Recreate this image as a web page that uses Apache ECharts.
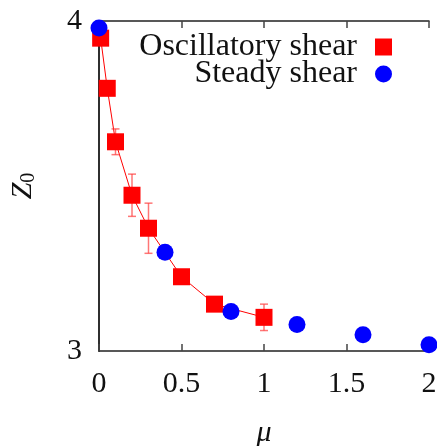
<!DOCTYPE html>
<html><head><meta charset="utf-8">
<script src="https://cdn.jsdelivr.net/npm/echarts@6/dist/echarts.min.js"></script>
<style>html,body{margin:0;padding:0;background:#fff}#c{width:437px;height:446px}</style>
</head><body><div id="c"></div>
<script>
// Oscillatory shear (red squares, with error bars)
var oscMu = [0.01, 0.05, 0.1, 0.2, 0.3, 0.5, 0.7, 1.0];
var oscZ  = [3.948, 3.796, 3.634, 3.472, 3.372, 3.225, 3.142, 3.102];
var oscErr = [0.0, 0.0, 0.039, 0.064, 0.076, 0.0, 0.0, 0.04];
// Steady shear (blue circles)
var stMu = [0, 0.4, 0.8, 1.2, 1.6, 2.0];
var stZ  = [3.979, 3.299, 3.120, 3.080, 3.049, 3.019];
var xTicks = [0, 0.5, 1, 1.5, 2];
var yTicks = [3, 4];

var FONT = '"Liberation Serif", "DejaVu Serif", serif';
var oscData = oscMu.map(function(m,i){return [m, oscZ[i]];});
var errData = oscMu.map(function(m,i){return [m, oscZ[i]-oscErr[i], oscZ[i]+oscErr[i]];}).filter(function(d,i){return oscErr[i]>0;});
var stData = stMu.map(function(m,i){return [m, stZ[i]];});

var chart = echarts.init(document.getElementById('c'), null, {renderer:'canvas'});
var axLine = {show:true, lineStyle:{color:'#222', width:1.5}};
chart.setOption({
  animation:false,
  grid:{left:99, right:8, top:21, bottom:95, containLabel:false, outerBoundsMode:'none'},
  legend:{
    orient:'vertical', right:40, top:26, align:'right',
    itemWidth:17, itemHeight:17, itemGap:-5,
    textStyle:{fontFamily:FONT, fontSize:32, color:'#111', lineHeight:28, padding:[0,13,0,0]},
    data:[{name:'Oscillatory shear', icon:'rect'},{name:'Steady shear', icon:'circle'}]
  },
  xAxis:[{
    type:'value', min:0, max:2, interval:0.5,
    axisLine:axLine, splitLine:{show:false},
    axisTick:{show:true, inside:true, length:7, lineStyle:{color:'#444', width:1.5}},
    axisLabel:{fontFamily:FONT, fontSize:30, color:'#111', margin:18,
      formatter:function(v){return xTicks.indexOf(v)>=0 ? String(v) : '';}},
    name:'μ', nameLocation:'middle', nameGap:67,
    nameTextStyle:{fontFamily:FONT, fontSize:30, fontStyle:'italic', color:'#111'}
  },{
    type:'value', min:0, max:2, interval:0.5, position:'top',
    axisLine:axLine, splitLine:{show:false},
    axisTick:{show:true, inside:true, length:7, lineStyle:{color:'#444', width:1.5}},
    axisLabel:{show:false}
  }],
  yAxis:[{
    type:'value', min:3, max:4, interval:1,
    axisLine:axLine, splitLine:{show:false},
    axisTick:{show:false},
    axisLabel:{fontFamily:FONT, fontSize:30, color:'#111', margin:17,
      formatter:function(v){return yTicks.indexOf(v)>=0 ? String(v) : '';}},
    name:'{z|Z}{s|0}', nameLocation:'middle', nameGap:60,
    nameTextStyle:{fontFamily:FONT, color:'#111',
      rich:{z:{fontFamily:FONT, fontSize:30, fontStyle:'italic', color:'#111'},
            s:{fontFamily:FONT, fontSize:20, color:'#111', padding:[12,0,0,0]}}}
  },{
    type:'value', min:3, max:4, interval:1, position:'right',
    axisLine:axLine, splitLine:{show:false}, axisTick:{show:false}, axisLabel:{show:false}
  }],
  series:[
    {type:'line', data:oscData, showSymbol:false, symbol:'none', silent:true,
     lineStyle:{color:'#ff0000', width:1}, z:2, clip:false},
    {type:'custom', z:3, clip:false, data:errData,
     renderItem:function(params, api){
       var x = api.value(0);
       var lo = api.coord([x, api.value(1)]);
       var hi = api.coord([x, api.value(2)]);
       var w = 4;
       var st = {stroke:'rgba(255,60,60,0.7)', lineWidth:1.5};
       return {type:'group', children:[
         {type:'line', shape:{x1:lo[0],y1:lo[1],x2:hi[0],y2:hi[1]}, style:st},
         {type:'line', shape:{x1:lo[0]-w,y1:lo[1],x2:lo[0]+w,y2:lo[1]}, style:st},
         {type:'line', shape:{x1:hi[0]-w,y1:hi[1],x2:hi[0]+w,y2:hi[1]}, style:st}
       ]};
     }},
    {type:'scatter', name:'Oscillatory shear', data:oscData, symbol:'rect', symbolSize:17,
     itemStyle:{color:'#ff0000', opacity:1}, z:4, clip:false},
    {type:'scatter', name:'Steady shear', data:stData, symbol:'circle', symbolSize:17,
     itemStyle:{color:'#0000ff', opacity:1}, z:5, clip:false}
  ]
});
</script></body></html>
